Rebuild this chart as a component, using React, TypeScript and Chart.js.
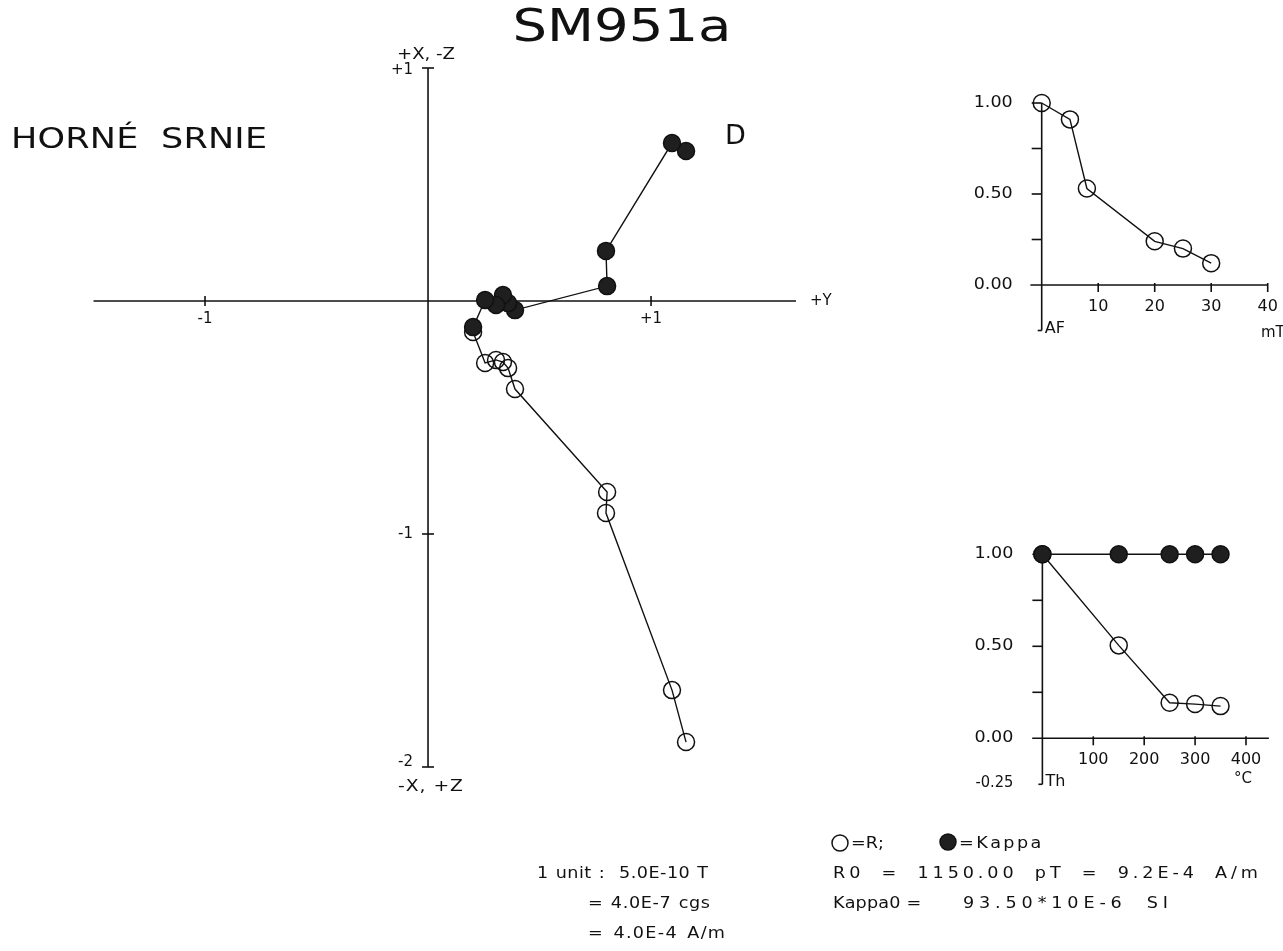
import React, { useEffect, useRef } from "react";
import { Chart, registerables } from "chart.js";

Chart.register(...registerables);

// Demagnetisation steps: Y, X and Z components (in units) of the remanence vector
const compY = [1.157, 1.094, 0.798, 0.803, 0.39, 0.359, 0.336, 0.305, 0.256, 0.202];
const compX = [0.644, 0.678, 0.215, 0.064, -0.039, -0.009, 0.026, -0.017, 0.004, -0.112];
const compZ = [1.893, 1.67, 0.91, 0.82, 0.378, 0.288, 0.262, 0.253, 0.266, 0.133];

// Normalised AF decay of the remanence
const afField = [0, 5, 8, 20, 25, 30];
const afR = [1.0, 0.91, 0.53, 0.24, 0.2, 0.12];

// Normalised thermal decay of the remanence and the susceptibility
const thermT = [0, 150, 250, 300, 350];
const thermR = [1.0, 0.505, 0.193, 0.186, 0.175];
const thermKappa = [1.0, 1.0, 1.0, 1.0, 1.0];

// Axis ticks
const mainHTicks = [-1, 1];
const mainHTickLabels = ["-1", "+1"];
const mainVTicks = [1, -1, -2];
const mainVTickLabels = ["+1", "-1", "-2"];
const afTicks = [10, 20, 30, 40];
const thermTicks = [100, 200, 300, 400];
const decayTicks = [0.25, 0.5, 0.75, 1.0];
const decayTickValues = [1.0, 0.5, 0.0];
const decayTickLabels = ["1.00", "0.50", "0.00"];

const W = 1283;
const H = 951;
const FONT = '"DejaVu Sans", "Liberation Sans", sans-serif';
const INK = "#111111";
const FILLED = "#1f1f1f";

type Frame = { left: number; right: number; top: number; bottom: number };

const mainFrame: Frame = { left: 93.5, right: 796, top: 68, bottom: 767 };
const afFrame: Frame = { left: 1030.4, right: 1267.7, top: 103, bottom: 330.5 };
const thermFrame: Frame = { left: 1032.2, right: 1268.9, top: 554.3, bottom: 784.3 };

function padFor(f: Frame) {
  return { left: f.left, top: f.top, right: W - f.right, bottom: H - f.bottom };
}

// Text drawn glyph by glyph; when a width is given the glyphs are widened and
// the remaining room is spread between them
function drawText(
  ctx: CanvasRenderingContext2D,
  str: string,
  x: number,
  y: number,
  size: number,
  align: "left" | "center" | "right" = "left",
  width?: number
) {
  ctx.save();
  ctx.font = `${size}px ${FONT}`;
  ctx.fillStyle = INK;
  ctx.textBaseline = "middle";
  ctx.textAlign = "left";
  const chars = Array.from(str);
  const natural = ctx.measureText(str).width;
  let sx = 1;
  let gap = 0;
  if (width) {
    sx = Math.min(1.25, Math.max(0.85, width / natural));
    gap = chars.length > 1 ? (width - natural * sx) / (chars.length - 1) : 0;
  }
  const total = width ?? natural;
  const start = align === "left" ? x : align === "center" ? x - total / 2 : x - total;
  ctx.translate(start, y);
  ctx.scale(sx, 1);
  let lx = 0;
  for (const ch of chars) {
    ctx.fillText(ch, lx, 0);
    lx += ctx.measureText(ch).width + gap / sx;
  }
  ctx.restore();
}

// Annotation lines: one glyph shape throughout, with the room left over
// shared by the letters and, more generously, the word gaps
const NOTE_SIZE = 16;
const NOTE_STRETCH = 1.1;
const SPACE_WEIGHT = 2;
function note(ctx: CanvasRenderingContext2D, str: string, x: number, y: number, width: number) {
  ctx.save();
  ctx.font = `${NOTE_SIZE}px ${FONT}`;
  ctx.fillStyle = INK;
  ctx.textBaseline = "middle";
  ctx.textAlign = "left";
  const chars = Array.from(str);
  const natural = ctx.measureText(str).width;
  const spaces = chars.filter((c) => c === " ").length;
  const weight = chars.length - 1 + SPACE_WEIGHT * spaces;
  let sx = NOTE_STRETCH;
  let g = (width - natural * sx) / Math.max(1, weight);
  if (g < 0) {
    g = 0;
    sx = width / natural;
  }
  ctx.translate(x, y);
  ctx.scale(sx, 1);
  let lx = 0;
  for (const ch of chars) {
    ctx.fillText(ch, lx, 0);
    lx += ctx.measureText(ch).width + (g + (ch === " " ? SPACE_WEIGHT * g : 0)) / sx;
  }
  ctx.restore();
}

function line(ctx: CanvasRenderingContext2D, x1: number, y1: number, x2: number, y2: number) {
  ctx.beginPath();
  ctx.moveTo(x1, y1);
  ctx.lineTo(x2, y2);
  ctx.stroke();
}

const baseOptions = (frame: Frame, xMin: number, xMax: number, yMin: number, yMax: number) => ({
  animation: false as const,
  responsive: false,
  devicePixelRatio: 1,
  events: [] as any[],
  layout: { padding: padFor(frame) },
  plugins: { legend: { display: false }, tooltip: { enabled: false } },
  scales: {
    x: { type: "linear" as const, min: xMin, max: xMax, display: false },
    y: { type: "linear" as const, min: yMin, max: yMax, display: false },
  },
});

const seriesStyle = (fill: string) => ({
  showLine: true,
  borderColor: INK,
  borderWidth: 1.4,
  pointRadius: 8.5,
  pointBorderWidth: 1.5,
  pointBorderColor: INK,
  pointBackgroundColor: fill,
  tension: 0,
  clip: false as const,
});

// Orthogonal vector projection with its axes and the sheet's annotations
const projectionPlugin = {
  id: "projectionAxes",
  beforeDatasetsDraw(chart: any) {
    const { ctx } = chart;
    const xs = chart.scales.x;
    const ys = chart.scales.y;
    const x0 = xs.getPixelForValue(0);
    const y0 = ys.getPixelForValue(0);
    ctx.save();
    ctx.strokeStyle = INK;
    ctx.lineWidth = 1.6;
    line(ctx, xs.left, y0, xs.right, y0);
    line(ctx, x0, ys.top, x0, ys.bottom);
    for (const v of mainHTicks) {
      const px = xs.getPixelForValue(v);
      line(ctx, px, y0 - 5, px, y0 + 5);
    }
    for (const v of mainVTicks) {
      const py = ys.getPixelForValue(v);
      line(ctx, x0 - 6, py, x0 + 6, py);
    }
    ctx.restore();
  },
  afterDraw(chart: any) {
    const { ctx } = chart;
    const xs = chart.scales.x;
    const ys = chart.scales.y;
    const x0 = xs.getPixelForValue(0);
    const y0 = ys.getPixelForValue(0);

    mainHTicks.forEach((v, i) => {
      drawText(ctx, mainHTickLabels[i], xs.getPixelForValue(v), y0 + 18, 15, "center");
    });
    mainVTicks.forEach((v, i) => {
      const off = v === -2 ? -5 : v === 1 ? 2 : 0;
      drawText(ctx, mainVTickLabels[i], x0 - 15, ys.getPixelForValue(v) + off, 15, "right");
    });
    drawText(ctx, "+Y", xs.right + 14, y0, 15, "left");
    drawText(ctx, "+X, -Z", x0 - 31, ys.top - 13, 15, "left", 58);
    drawText(ctx, "-X, +Z", x0 - 30, ys.bottom + 20, 15, "left", 64);

    drawText(ctx, "SM951a", 622, 30, 44, "center", 219);
    drawText(ctx, "HORNÉ  SRNIE", 11, 141, 28, "left", 256);
    drawText(ctx, "D", 725, 137, 27, "left");

    // symbol key
    ctx.save();
    ctx.strokeStyle = INK;
    ctx.lineWidth = 1.5;
    ctx.beginPath();
    ctx.arc(840, 843, 8, 0, Math.PI * 2);
    ctx.stroke();
    ctx.fillStyle = FILLED;
    ctx.beginPath();
    ctx.arc(948, 842, 8, 0, Math.PI * 2);
    ctx.fill();
    ctx.stroke();
    ctx.restore();
    note(ctx, "=R;", 851, 844, 33);
    note(ctx, "=Kappa", 959, 844, 82);

    note(ctx, "1 unit :  5.0E-10 T", 537, 874, 171);
    note(ctx, "= 4.0E-7 cgs", 588, 904, 122);
    note(ctx, "= 4.0E-4 A/m", 588, 934, 137);
    note(ctx, "R0 = 1150.00 pT = 9.2E-4 A/m", 833, 874, 425);
    note(ctx, "Kappa0 =", 833, 904, 88);
    note(ctx, "93.50*10E-6 SI", 963, 904, 205);
  },
};

type DecayCfg = {
  ticks: number[];
  unit: string;
  unitX: number;
  unitY: number;
  method: string;
  lowLabel: boolean;
};

// Axes of a normalised decay curve
function decayPlugin(cfg: DecayCfg) {
  return {
    id: "decayAxes",
    beforeDatasetsDraw(chart: any) {
      const { ctx } = chart;
      const xs = chart.scales.x;
      const ys = chart.scales.y;
      const x0 = xs.getPixelForValue(0);
      const y0 = ys.getPixelForValue(0);
      ctx.save();
      ctx.strokeStyle = INK;
      ctx.lineWidth = 1.6;
      line(ctx, xs.left, y0, xs.right, y0);
      line(ctx, x0, ys.top, x0, ys.bottom);
      for (const v of decayTicks) {
        const py = ys.getPixelForValue(v);
        line(ctx, x0 - 10, py, x0, py);
      }
      line(ctx, x0 - 4, ys.bottom, x0, ys.bottom);
      for (const v of cfg.ticks) {
        const px = xs.getPixelForValue(v);
        line(ctx, px, y0 - 2, px, y0 + 7);
      }
      ctx.restore();
    },
    afterDraw(chart: any) {
      const { ctx } = chart;
      const xs = chart.scales.x;
      const ys = chart.scales.y;
      const x0 = xs.getPixelForValue(0);
      const y0 = ys.getPixelForValue(0);
      decayTickValues.forEach((v, i) => {
        drawText(ctx, decayTickLabels[i], x0 - 29, ys.getPixelForValue(v), 16, "right", 39);
      });
      if (cfg.lowLabel) drawText(ctx, "-0.25", x0 - 29, ys.bottom - 1, 16, "right", 38);
      cfg.ticks.forEach((v) => {
        drawText(ctx, String(v), xs.getPixelForValue(v), y0 + 22, 16, "center");
      });
      drawText(ctx, cfg.method, x0 + 3, ys.bottom - 2, 16, "left");
      drawText(ctx, cfg.unit, cfg.unitX, cfg.unitY, 15, "left");
    },
  };
}

function PlotCanvas({ build }: { build: () => any }) {
  const ref = useRef<HTMLCanvasElement | null>(null);
  useEffect(() => {
    if (!ref.current) return;
    const chart = new Chart(ref.current, build());
    return () => chart.destroy();
  }, [build]);
  return (
    <canvas
      ref={ref}
      width={W}
      height={H}
      style={{ position: "absolute", left: 0, top: 0, width: W, height: H }}
    />
  );
}

const buildProjection = () => ({
  type: "scatter",
  data: {
    datasets: [
      {
        label: "horizontal",
        order: 0,
        data: compY.map((v, i) => ({ x: v, y: compX[i] })),
        ...seriesStyle(FILLED),
      },
      {
        label: "vertical",
        order: 1,
        data: compY.map((v, i) => ({ x: v, y: -compZ[i] })),
        ...seriesStyle("rgba(255,255,255,0)"),
      },
    ],
  },
  options: baseOptions(mainFrame, -1.5, 1.65, -2, 1),
  plugins: [projectionPlugin],
});

const buildAF = () => ({
  type: "scatter",
  data: {
    datasets: [
      {
        label: "R",
        data: afField.map((v, i) => ({ x: v, y: afR[i] })),
        ...seriesStyle("rgba(255,255,255,0)"),
      },
    ],
  },
  options: baseOptions(afFrame, -2, 40, -0.25, 1),
  plugins: [
    decayPlugin({ ticks: afTicks, unit: "mT", unitX: 1261, unitY: 333, method: "AF", lowLabel: false }),
  ],
});

const buildThermal = () => ({
  type: "scatter",
  data: {
    datasets: [
      {
        label: "Kappa",
        order: 0,
        data: thermT.map((v, i) => ({ x: v, y: thermKappa[i] })),
        ...seriesStyle(FILLED),
      },
      {
        label: "R",
        order: 1,
        data: thermT.map((v, i) => ({ x: v, y: thermR[i] })),
        ...seriesStyle("rgba(255,255,255,0)"),
      },
    ],
  },
  options: baseOptions(thermFrame, -20, 445, -0.25, 1),
  plugins: [
    decayPlugin({ ticks: thermTicks, unit: "°C", unitX: 1234, unitY: 779, method: "Th", lowLabel: true }),
  ],
});

export default function App() {
  return (
    <div
      style={{
        position: "absolute",
        left: 0,
        top: 0,
        width: W,
        height: H,
        background: "#ffffff",
        overflow: "hidden",
      }}
    >
      <PlotCanvas build={buildProjection} />
      <PlotCanvas build={buildAF} />
      <PlotCanvas build={buildThermal} />
    </div>
  );
}
